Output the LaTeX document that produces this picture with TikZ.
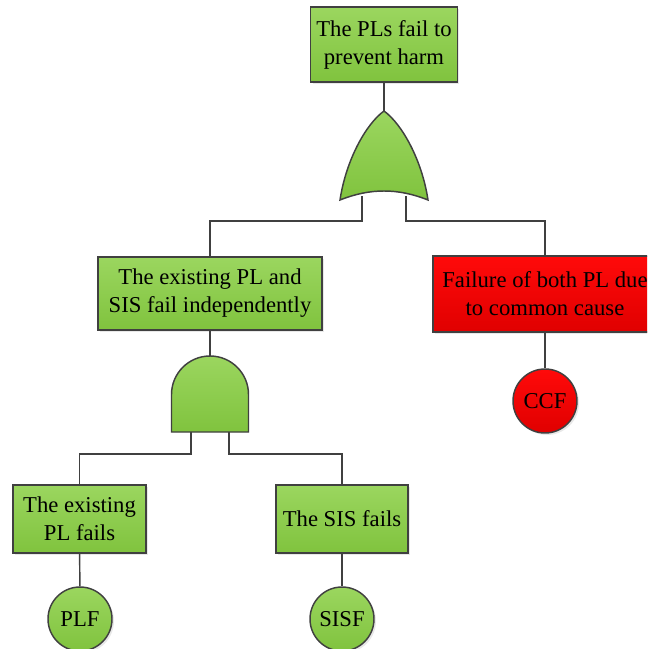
\documentclass[tikz,border=0pt]{standalone}
\usepackage{fontspec}
\setmainfont{Liberation Serif}
\usetikzlibrary{shadows}

\definecolor{edgegray}{HTML}{404040}
\definecolor{greentop}{HTML}{9BD65F}
\definecolor{greenbot}{HTML}{80C33E}
\definecolor{redtop}{HTML}{FF0A0A}
\definecolor{redbot}{HTML}{E00000}

\begin{document}
\begin{tikzpicture}[x=0.75pt, y=0.75pt,
	main/.style = {draw=edgegray, line width=1.1pt, align=center, inner sep=2pt,
		top color=greentop, bottom color=greenbot,
		drop shadow={shadow xshift=1.5pt, shadow yshift=-1.5pt, opacity=0.18},
		font=\fontsize{17}{21}\selectfont},
	cause/.style = {main, top color=redtop, bottom color=redbot},
	basic/.style = {main, circle, minimum size=48pt, inner sep=0pt},
	redbasic/.style = {basic, top color=redtop, bottom color=redbot},
	gate/.style = {draw=edgegray, line width=1.1pt, top color=greentop, bottom color=greenbot},
	line/.style = {draw=edgegray, line width=1.1pt}]
	\useasboundingbox (0,0) rectangle (647,-649);
	\clip (0,0) rectangle (647,-649);

	%% Nodes
	\node[main, minimum width=110pt, minimum height=56pt] (top) at (384,-44.5) {The PLs fail to\\prevent harm};

	\node[main, minimum width=168pt, minimum height=55pt] (mid) at (210,-293.5) {The existing PL and\\SIS fail independently};
	\node[cause, minimum width=168pt, minimum height=57pt] (cause) at (545,-294) {Failure of both PL due\\to common cause};

	\node[main, minimum width=100pt, minimum height=51pt] (pl) at (79.5,-519) {The existing\\PL fails};
	\node[main, minimum width=99pt, minimum height=51pt] (sis) at (342,-519) {The SIS fails};

	\node[basic] (plf) at (80,-619) {PLF};
	\node[basic] (sisf) at (342,-619) {SISF};
	\node[redbasic] (ccf) at (545,-401) {CCF};

	%% Gate points
	\coordinate (ortop) at (384,-111);
	\coordinate (orL) at (362,-196);
	\coordinate (orR) at (406,-196);
	\coordinate (andtop) at (210,-356);
	\coordinate (andL) at (191,-430);
	\coordinate (andR) at (229,-430);

	%% Edges
	\draw[line] (top) -- (ortop);
	\draw[line] (orL) -- ++(0,-25) -| (mid);
	\draw[line] (orR) -- ++(0,-25) -| (cause);
	\draw[line] (mid) -- (andtop);
	\draw[line] (andL) -- ++(0,-24) -| (pl);
	\draw[line] (andR) -- ++(0,-24) -| (sis);
	\draw[line] (pl) -- (plf);
	\draw[line] (sis) -- (sisf);
	\draw[line] (cause) -- (ccf);

	%% Gates
	\path[gate] (ortop) .. controls (366,-124) and (346,-160) .. (340,-200)
		.. controls (370,-188) and (398,-188) .. (428,-200)
		.. controls (422,-160) and (402,-124) .. (ortop) -- cycle;
	\path[gate] (171.5,-432) -- (171.5,-394.5) arc[start angle=180, end angle=0, radius=38.5]
		-- (248.5,-432) -- cycle;

\end{tikzpicture}
\end{document}
